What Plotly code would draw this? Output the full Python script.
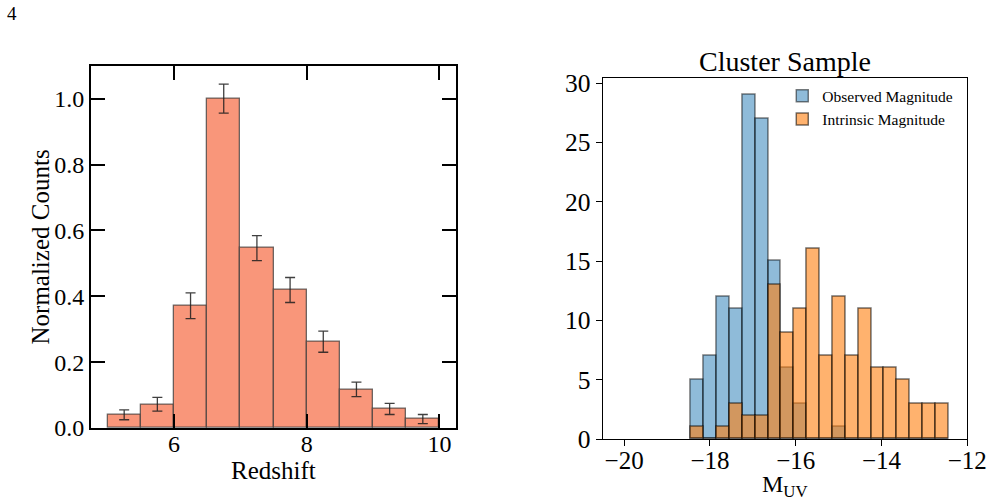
import plotly.graph_objects as go

# ---- Left panel data: redshift distribution ----
z_centers = [5.25, 5.75, 6.25, 6.75, 7.25, 7.75, 8.25, 8.75, 9.25, 9.75]
z_counts = [0.04, 0.072, 0.371, 1.0, 0.546, 0.419, 0.262, 0.117, 0.058, 0.027]
z_errors = [0.015, 0.021, 0.039, 0.044, 0.038, 0.038, 0.032, 0.022, 0.017, 0.014]
z_width = 0.5

# ---- Right panel data: M_UV histograms (cluster sample) ----
muv_edges_start = -18.44
muv_bin_width = 0.3
muv_centers = [round(muv_edges_start + muv_bin_width * (i + 0.5), 3) for i in range(20)]
observed_counts = [5, 7, 12, 11, 29, 27, 15, 6, 3, 0, 0, 1, 0, 0, 0, 0, 0, 0, 0, 0]
intrinsic_counts = [1, 0, 1, 3, 2, 2, 13, 9, 11, 16, 7, 12, 7, 11, 6, 6, 5, 3, 3, 3]

SERIF = "Liberation Serif"

fig = go.Figure()

fig.add_trace(go.Bar(
    x=z_centers, y=z_counts, width=z_width,
    marker=dict(color="#F9967A", line=dict(color="rgba(60,60,60,0.75)", width=1.3)),
    error_y=dict(type="data", array=z_errors, color="rgba(30,30,30,0.85)",
                 thickness=1.3, width=5),
    xaxis="x", yaxis="y", showlegend=False,
))

fig.add_trace(go.Bar(
    x=muv_centers, y=observed_counts, width=muv_bin_width,
    name="Observed Magnitude",
    marker=dict(color="rgba(31,119,180,0.5)", line=dict(color="rgba(0,0,0,0.5)", width=1.5)),
    xaxis="x2", yaxis="y2",
))
fig.add_trace(go.Bar(
    x=muv_centers, y=intrinsic_counts, width=muv_bin_width,
    name="Intrinsic Magnitude",
    marker=dict(color="rgba(255,127,14,0.6)", line=dict(color="rgba(0,0,0,0.55)", width=1.5)),
    xaxis="x2", yaxis="y2",
))

W, H = 994, 501
def px_x(a, b):
    return [a / W, b / W]
def px_y(top, bottom):
    return [1 - bottom / H, 1 - top / H]
def pt(x, y):
    return x / W, 1 - y / H

ann = []
def label(text, x, y, size, angle=0):
    px, py = pt(x, y)
    ann.append(dict(text=text, x=px, y=py, xref="paper", yref="paper",
                    xanchor="center", yanchor="middle", showarrow=False,
                    textangle=angle, borderpad=0,
                    font=dict(size=size, family=SERIF, color="black")))

label("Cluster Sample", 785, 61.7, 28)
label("4", 12, 14, 19)
label("Redshift", 273.5, 470, 25)
label("Normalized Counts", 40, 247.5, 25, angle=-90)
label("M<sub>UV</sub>", 785, 486, 24)

fig.update_layout(
    width=W, height=H,
    margin=dict(l=0, r=0, t=0, b=0),
    paper_bgcolor="white", plot_bgcolor="white",
    barmode="overlay", bargap=0,
    font=dict(family=SERIF, color="black"),
    xaxis=dict(
        domain=px_x(91, 456), range=[4.75, 10.25], automargin=False,
        tickvals=[6, 8, 10], ticktext=["6", "8", "10"],
        ticks="inside", ticklen=14, tickwidth=2, tickcolor="black",
        showline=True, linewidth=2, linecolor="black", mirror="allticks",
        showgrid=False, zeroline=False, ticklabelstandoff=-7,
        tickfont=dict(size=24, family=SERIF),
    ),
    yaxis=dict(
        domain=px_y(65.7, 428), range=[0, 1.1], automargin=False,
        tickvals=[0, 0.2, 0.4, 0.6, 0.8, 1.0], tickformat=".1f",
        ticks="inside", ticklen=14, tickwidth=2, tickcolor="black",
        showline=True, linewidth=2, linecolor="black", mirror="allticks",
        showgrid=False, zeroline=False,
        tickfont=dict(size=24, family=SERIF),
    ),
    xaxis2=dict(
        domain=px_x(602.7, 967.3), range=[-20.5, -12], automargin=False,
        tickvals=[-20, -18, -16, -14, -12],
        ticks="outside", ticklen=6, tickwidth=1.2, tickcolor="black",
        showline=True, linewidth=1.2, linecolor="black", mirror=True,
        showgrid=False, zeroline=False, ticklabelstandoff=-7,
        tickfont=dict(size=25, family=SERIF),
        anchor="y2",
    ),
    yaxis2=dict(
        domain=px_y(77.7, 439), range=[0, 30.45], automargin=False,
        tickvals=[0, 5, 10, 15, 20, 25, 30],
        ticks="outside", ticklen=6, tickwidth=1.2, tickcolor="black",
        showline=True, linewidth=1.2, linecolor="black", mirror=True,
        showgrid=False, zeroline=False,
        tickfont=dict(size=25.5, family=SERIF),
        anchor="x2",
    ),
    legend=dict(
        x=0.787, y=0.842, xanchor="left", yanchor="top",
        bgcolor="rgba(0,0,0,0)", borderwidth=0,
        font=dict(size=15.5, family=SERIF),
        tracegroupgap=0, itemwidth=30,
    ),
    annotations=ann,
)

fig.write_html("out.html")
